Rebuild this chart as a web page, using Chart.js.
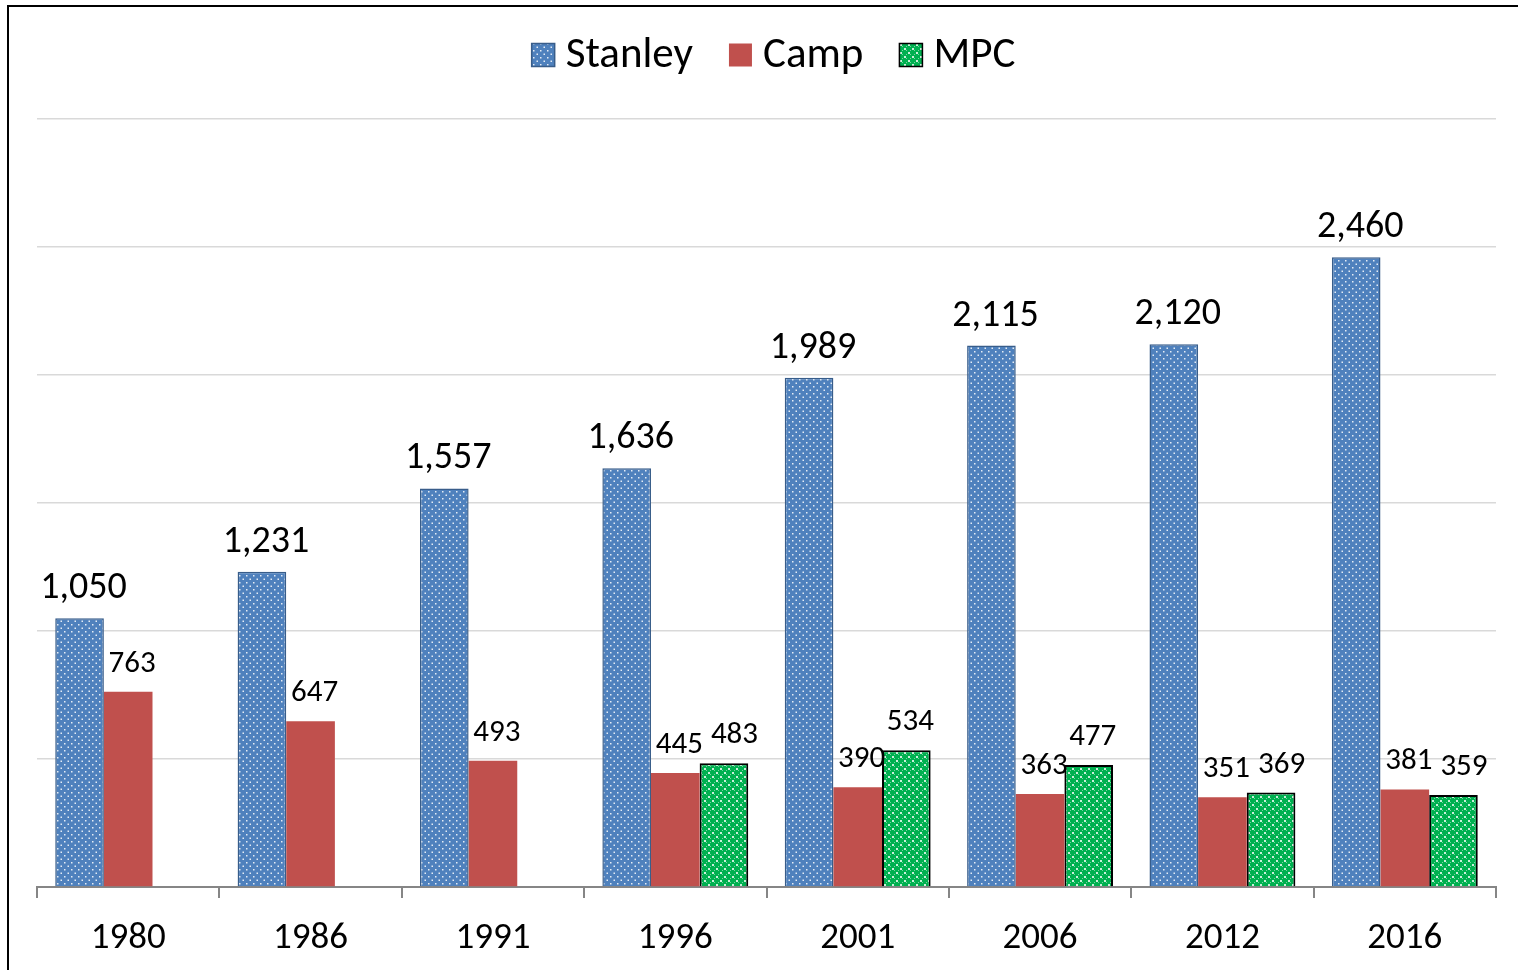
<!DOCTYPE html>
<html>
<head>
<meta charset="utf-8">
<script src="https://cdn.jsdelivr.net/npm/chart.js@4.4.1/dist/chart.umd.min.js"></script>
<style>
  html, body { margin: 0; padding: 0; background: #fff; overflow: hidden; }
  #wrap { position: relative; width: 1518px; height: 970px; }
  #frame { position: absolute; left: 7px; top: 5px; width: 1530px; height: 1000px; border: 2px solid #000; box-sizing: border-box; pointer-events: none; }
</style>
</head>
<body>
<div id="wrap">
  <canvas id="chart" width="1518" height="970"></canvas>
  <div id="frame"></div>
</div>
<script>
const years = ["1980", "1986", "1991", "1996", "2001", "2006", "2012", "2016"];
const stanley = [1050, 1231, 1557, 1636, 1989, 2115, 2120, 2460];
const camp = [763, 647, 493, 445, 390, 363, 351, 381];
const mpc = [null, null, null, 483, 534, 477, 369, 359];
const yTicks = [0, 500, 1000, 1500, 2000, 2500, 3000];

const FONT = "Carlito, Lato, 'Open Sans', sans-serif";

// dotted blue fill
function dotPattern() {
  const c = document.createElement("canvas");
  c.width = 7; c.height = 7;
  const g = c.getContext("2d");
  g.fillStyle = "#4f81bd";
  g.fillRect(0, 0, 7, 7);
  g.fillStyle = "rgba(255,255,255,0.85)";
  g.fillRect(1, 1, 1.5, 1.5);
  g.fillRect(4.5, 4.5, 1.5, 1.5);
  return g.createPattern(c, "repeat");
}

// green lattice fill
function latticePattern() {
  const c = document.createElement("canvas");
  c.width = 8; c.height = 8;
  const g = c.getContext("2d");
  g.fillStyle = "#00b050";
  g.fillRect(0, 0, 8, 8);
  g.fillStyle = "rgba(255,255,255,0.8)";
  g.fillRect(0, 0, 2, 2);
  g.fillRect(4, 4, 2, 2);
  g.fillStyle = "rgba(255,255,255,0.45)";
  g.fillRect(2, 2, 1, 1);
  g.fillRect(6, 6, 1, 1);
  g.fillRect(2, 6, 1, 1);
  g.fillRect(6, 2, 1, 1);
  return g.createPattern(c, "repeat");
}

// value labels above bars; a label that would collide with the one
// to its left (same row) gets pushed right, like Excel does
const valueLabels = {
  id: "valueLabels",
  afterDatasetsDraw(chart) {
    const ctx = chart.ctx;
    ctx.save();
    ctx.fillStyle = "#000";
    ctx.textAlign = "center";
    ctx.textBaseline = "alphabetic";
    const prevRight = {};
    chart.data.datasets.forEach((ds, i) => {
      const meta = chart.getDatasetMeta(i);
      const size = i === 0 ? 38 : 31;
      ctx.font = size + "px " + FONT;
      meta.data.forEach((bar, j) => {
        const v = ds.data[j];
        if (v === null) return;
        const txt = v.toLocaleString("en-US");
        const w = ctx.measureText(txt).width;
        let x = bar.x + 4;
        const y = bar.y - 20;
        const p = prevRight[j];
        if (i === 2 && p && Math.abs(p.y - y) < size * 0.8 && x - w / 2 < p.right + 8) {
          x = p.right + 8 + w / 2;
        }
        ctx.fillText(txt, x, y);
        if (i > 0) prevRight[j] = { right: x + w / 2, y };
      });
    });
    ctx.restore();
  }
};

// legend drawn by hand so the box/text gaps match
const topLegend = {
  id: "topLegend",
  afterDraw(chart) {
    const ctx = chart.ctx;
    const box = 23, gapText = 11, gapItem = 36, y = 55;
    ctx.save();
    ctx.font = "43px " + FONT;
    ctx.textBaseline = "middle";
    const items = chart.data.datasets.map(ds => ({ ds, w: ctx.measureText(ds.label).width }));
    const total = items.reduce((s, it) => s + box + gapText + it.w, 0) + gapItem * (items.length - 1);
    let x = (chart.chartArea.left + chart.chartArea.right) / 2 + 7 - total / 2;
    items.forEach(it => {
      ctx.fillStyle = it.ds.backgroundColor;
      ctx.fillRect(x, y - box / 2, box, box);
      if (it.ds.borderWidth) {
        ctx.strokeStyle = it.ds.borderColor;
        ctx.lineWidth = 1.5;
        ctx.strokeRect(x, y - box / 2, box, box);
      }
      ctx.fillStyle = "#000";
      ctx.fillText(it.ds.label, x + box + gapText, y + 1);
      x += box + gapText + it.w + gapItem;
    });
    ctx.restore();
  }
};

new Chart(document.getElementById("chart").getContext("2d"), {
  type: "bar",
  data: {
    labels: years,
    datasets: [
      { label: "Stanley", data: stanley, backgroundColor: dotPattern(), borderColor: "#385d8a", borderWidth: 1.5 },
      { label: "Camp", data: camp, backgroundColor: "#c0504d", borderColor: "#c0504d", borderWidth: 0 },
      { label: "MPC", data: mpc, backgroundColor: latticePattern(), borderColor: "#000", borderWidth: 2 }
    ]
  },
  options: {
    responsive: false,
    animation: false,
    layout: { padding: { left: 37, right: 22, top: 119, bottom: 0 } },
    datasets: { bar: { categoryPercentage: 0.8, barPercentage: 1.0 } },
    plugins: {
      legend: { display: false },
      tooltip: { enabled: false }
    },
    scales: {
      x: {
        afterFit(scale) { scale.height = 83; },
        grid: { offset: true, drawOnChartArea: false, drawTicks: true, tickLength: 11, color: "#868686", lineWidth: 2 },
        border: { color: "#868686", width: 2 },
        ticks: { font: { family: FONT, size: 37, lineHeight: 1.0 }, color: "#000", padding: 22 }
      },
      y: {
        display: true,
        min: 0,
        max: 3000,
        afterBuildTicks(scale) { scale.ticks = yTicks.map(v => ({ value: v })); },
        grid: { color: "#d9d9d9", lineWidth: 1.5, drawTicks: false },
        border: { display: false },
        ticks: { display: false }
      }
    }
  },
  plugins: [valueLabels, topLegend]
});
</script>
</body>
</html>
